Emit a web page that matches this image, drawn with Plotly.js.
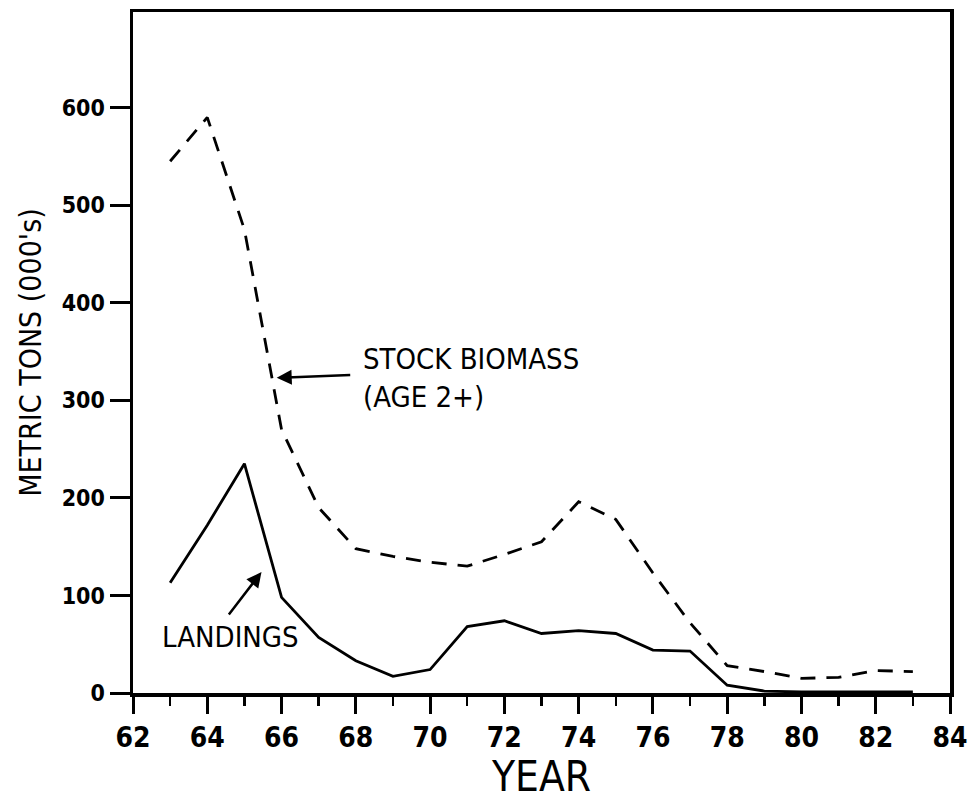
<!DOCTYPE html>
<html>
<head>
<meta charset="utf-8">
<script src="https://cdn.plot.ly/plotly-3.0.1.min.js"></script>
<style>html,body{margin:0;padding:0;background:#fff;}#chart{width:972px;height:801px;}</style>
</head>
<body>
<div id="chart"></div>
<script>
// Data (thousands of metric tons)
const biomassYears = [63, 64, 65, 66, 67, 68, 69, 70, 71, 72, 73, 74, 75, 76, 77, 78, 79, 80, 81, 82, 83];
const biomassValues = [545, 590, 475, 270, 190, 148, 140, 134, 130, 142, 155, 196, 178, 123, 72, 28, 22, 15, 16, 23, 22];
const landingsYears = [63, 64, 65, 66, 67, 68, 69, 70, 71, 72, 73, 74, 75, 76, 77, 78, 79, 80, 81, 82, 83];
const landingsValues = [113, 172, 235, 98, 57, 33, 17, 24, 68, 74, 61, 64, 61, 44, 43, 8, 2, 1, 1, 1, 1];
const xTickVals = [62, 64, 66, 68, 70, 72, 74, 76, 78, 80, 82, 84];
const yTickVals = [0, 100, 200, 300, 400, 500, 600];
const labelBiomass = "STOCK BIOMASS<br>(AGE 2+)";
const labelLandings = "LANDINGS";
const xTitle = "YEAR";
const yTitle = "METRIC TONS (000's)";

const FONT = "'DejaVu Sans Condensed', 'DejaVu Sans', sans-serif";

const traces = [
  {
    x: biomassYears, y: biomassValues, mode: 'lines', type: 'scatter',
    line: {color: '#000', width: 2.8, dash: '15px,11px'},
    hoverinfo: 'skip', showlegend: false
  },
  {
    x: landingsYears, y: landingsValues, mode: 'lines', type: 'scatter',
    line: {color: '#000', width: 2.8},
    hoverinfo: 'skip', showlegend: false
  }
];

const layout = {
  width: 972, height: 801,
  margin: {l: 133, r: 22, t: 12, b: 108},
  paper_bgcolor: '#fff', plot_bgcolor: '#fff',
  font: {family: FONT, color: '#000'},
  showlegend: false,
  xaxis: {
    range: [62, 84], tickvals: xTickVals, ticktext: xTickVals.map(String),
    showgrid: false, zeroline: false,
    showline: true, linewidth: 3.5, linecolor: '#000', mirror: true,
    ticks: 'outside', ticklen: 17, tickwidth: 3, tickcolor: '#000',
    minor: {dtick: 1, ticks: 'outside', ticklen: 9, tickwidth: 2.5, tickcolor: '#000', showgrid: false},
    tickfont: {family: FONT, size: 28, color: '#000', weight: 'bold'},
    title: {text: xTitle, font: {family: FONT, size: 42, color: '#000'}, standoff: 18}
  },
  yaxis: {
    range: [0, 698], tickvals: yTickVals, ticktext: yTickVals.map(String),
    showgrid: false, zeroline: false,
    showline: true, linewidth: 3.5, linecolor: '#000', mirror: true,
    ticks: 'outside', ticklen: 20, tickwidth: 3, tickcolor: '#000',
    tickfont: {family: FONT, size: 23, color: '#000', weight: 'bold'},
    title: {text: yTitle, font: {family: FONT, size: 30, color: '#000'}, standoff: 12}
  },
  annotations: [
    {
      x: 68.15, y: 323, xref: 'x', yref: 'y', text: labelBiomass,
      showarrow: false, xanchor: 'left', yanchor: 'middle', align: 'left',
      font: {family: FONT, size: 29, color: '#000'}
    },
    {
      x: 65.87, y: 323, ax: 67.89, ay: 326, xref: 'x', yref: 'y', axref: 'x', ayref: 'y',
      text: '', showarrow: true, arrowhead: 2, arrowsize: 1.2, arrowwidth: 2.5, arrowcolor: '#000'
    },
    {
      x: 62.73, y: 57, xref: 'x', yref: 'y', text: labelLandings,
      showarrow: false, xanchor: 'left', yanchor: 'middle',
      font: {family: FONT, size: 29, color: '#000'}
    },
    {
      x: 65.46, y: 124, ax: 64.55, ay: 79, xref: 'x', yref: 'y', axref: 'x', ayref: 'y',
      text: '', showarrow: true, arrowhead: 2, arrowsize: 1.2, arrowwidth: 2.5, arrowcolor: '#000'
    }
  ]
};

Plotly.newPlot('chart', traces, layout, {staticPlot: true, displayModeBar: false});
</script>
</body>
</html>
